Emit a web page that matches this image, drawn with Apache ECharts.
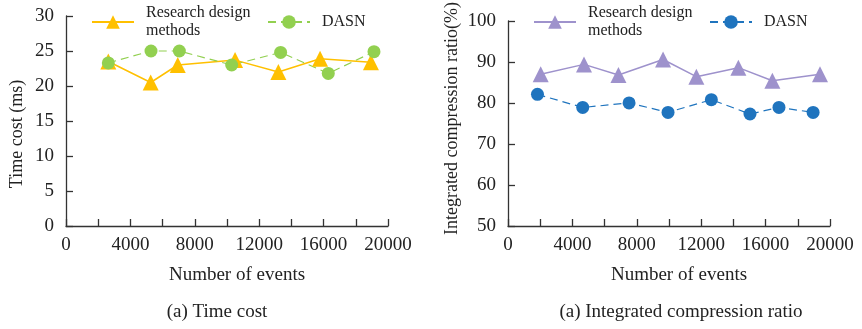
<!DOCTYPE html>
<html>
<head>
<meta charset="utf-8">
<script src="https://cdn.jsdelivr.net/npm/echarts@6/dist/echarts.min.js"></script>
<style>html,body{margin:0;padding:0;background:#fff}#c{width:862px;height:329px}</style>
</head>
<body>
<div id="c"></div>
<script>
// Left chart: Time cost
const leftResearchX = [2630, 5260, 6940, 10500, 13190, 15780, 18940];
const leftResearchY = [23.5, 20.5, 23.0, 23.7, 22.0, 23.9, 23.4];
const leftDasnX = [2630, 5280, 7040, 10290, 13330, 16290, 19130];
const leftDasnY = [23.3, 25.0, 25.0, 23.0, 24.8, 21.8, 24.9];
// Right chart: Integrated compression ratio
const rightResearchX = [2030, 4720, 6860, 9630, 11700, 14310, 16420, 19380];
const rightResearchY = [87.0, 89.4, 86.8, 90.6, 86.4, 88.6, 85.4, 87.0];
const rightDasnX = [1830, 4640, 7520, 9940, 12630, 15030, 16830, 18950];
const rightDasnY = [82.1, 78.9, 80.0, 77.7, 80.8, 77.3, 78.9, 77.7];

const seriesNames = ['Research design\nmethods', 'DASN'];
const leftYName = 'Time cost (ms)';
const rightYName = 'Integrated compression ratio(%)';
const xName = 'Number of events';
const leftCaption = '(a) Time cost';
const rightCaption = '(a) Integrated compression ratio';

const pairs = (xs, ys) => xs.map((x, i) => [x, ys[i]]);
const FONT = '"Liberation Serif", "Times New Roman", serif';
const axisColor = '#333';
const nameMap = { L_R: seriesNames[0], L_D: seriesNames[1], R_R: seriesNames[0], R_D: seriesNames[1] };

function xAxis(gridIndex) {
  return {
    type: 'value', gridIndex, min: 0, max: 20000, interval: 2000,
    name: xName, nameLocation: 'middle', nameGap: 40,
    nameTextStyle: { fontFamily: FONT, fontSize: 19, color: '#222', padding: [0, 0, 0, 20] },
    axisLine: { show: true, lineStyle: { color: axisColor, width: 1.3 } },
    axisTick: { show: true, inside: true, length: 7, lineStyle: { color: axisColor, width: 1.3 } },
    splitLine: { show: false },
    axisLabel: {
      fontFamily: FONT, fontSize: 19, color: '#222', margin: 10,
      formatter: v => (v % 4000 === 0 ? String(v) : '')
    }
  };
}
function yAxis(gridIndex, min, max, interval, name, gap, pad) {
  return {
    type: 'value', gridIndex, min, max, interval,
    name, nameLocation: 'middle', nameGap: gap,
    nameTextStyle: { fontFamily: FONT, fontSize: 18, color: '#222', padding: pad },
    axisLine: { show: true, lineStyle: { color: axisColor, width: 1.3 } },
    axisTick: { show: true, inside: true, length: 7, lineStyle: { color: axisColor, width: 1.3 } },
    splitLine: { show: false },
    axisLabel: { fontFamily: FONT, fontSize: 19, color: '#222', margin: 12 }
  };
}
function legend(name, left, top) {
  return {
    left, top, padding: 0, itemWidth: 42, itemHeight: 17,
    data: [name],
    formatter: n => nameMap[n],
    textStyle: { fontFamily: FONT, fontSize: 16, color: '#222', lineHeight: 18, padding: [0, 0, 0, 7] }
  };
}

const chart = echarts.init(document.getElementById('c'), null, { renderer: 'canvas' });
chart.setOption({
  animation: false,
  grid: [
    { left: 66, right: 474, top: 16, bottom: 103 },
    { left: 508, right: 32, top: 15, bottom: 103 }
  ],
  xAxis: [xAxis(0), xAxis(1)],
  yAxis: [
    yAxis(0, 0, 30, 5, leftYName, 40, [0, 26, 0, 0]),
    yAxis(1, 50, 100, 10, rightYName, 47, [0, 0, 0, 10])
  ],
  legend: [
    legend('L_R', 91, 4),
    legend('L_D', 267, 13),
    legend('R_R', 533, 4),
    legend('R_D', 709, 13)
  ],
  series: [
    {
      name: 'L_R', type: 'line', xAxisIndex: 0, yAxisIndex: 0,
      data: pairs(leftResearchX, leftResearchY),
      symbol: 'triangle', symbolSize: 16,
      lineStyle: { color: '#FFC000', width: 1.5 },
      itemStyle: { color: '#FFC000' }
    },
    {
      name: 'L_D', type: 'line', xAxisIndex: 0, yAxisIndex: 0,
      data: pairs(leftDasnX, leftDasnY),
      symbol: 'circle', symbolSize: 13,
      lineStyle: { color: '#92D050', width: 1.2, type: [8, 5] },
      itemStyle: { color: '#92D050' }
    },
    {
      name: 'R_R', type: 'line', xAxisIndex: 1, yAxisIndex: 1,
      data: pairs(rightResearchX, rightResearchY),
      symbol: 'triangle', symbolSize: 16,
      lineStyle: { color: '#9E92CC', width: 1.5 },
      itemStyle: { color: '#9E92CC' }
    },
    {
      name: 'R_D', type: 'line', xAxisIndex: 1, yAxisIndex: 1,
      data: pairs(rightDasnX, rightDasnY),
      symbol: 'circle', symbolSize: 13,
      lineStyle: { color: '#1F74BE', width: 1.2, type: [8, 5] },
      itemStyle: { color: '#1F74BE' }
    }
  ],
  graphic: [
    { type: 'text', x: 217, y: 312, style: { text: leftCaption, font: '19px ' + FONT, fill: '#222', textAlign: 'center', textVerticalAlign: 'middle' }, silent: true },
    { type: 'text', x: 681, y: 312, style: { text: rightCaption, font: '19px ' + FONT, fill: '#222', textAlign: 'center', textVerticalAlign: 'middle' }, silent: true }
  ]
});
</script>
</body>
</html>
